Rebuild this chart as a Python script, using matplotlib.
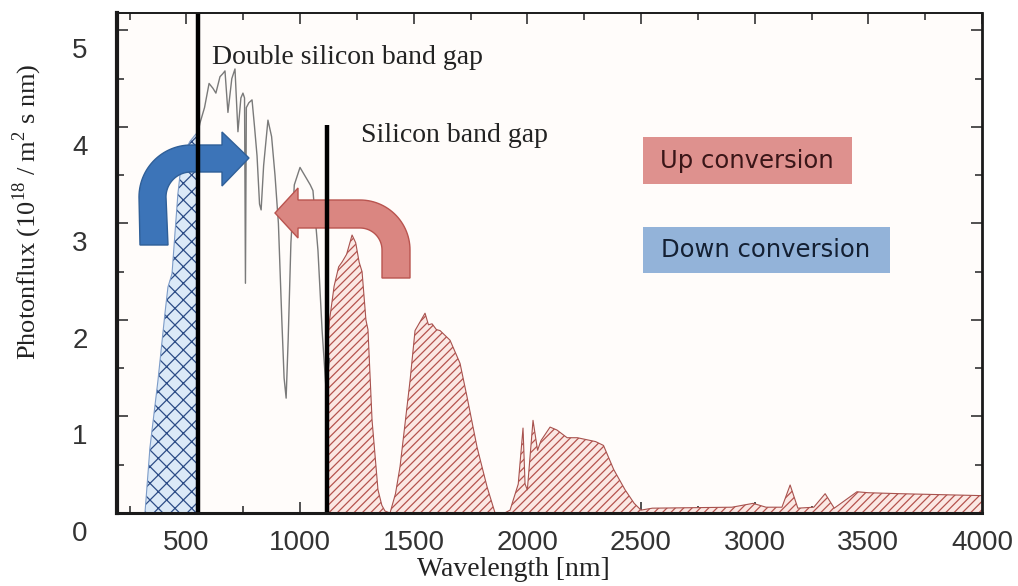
import numpy as np
import matplotlib
matplotlib.use('Agg')
import matplotlib.pyplot as plt
import matplotlib.transforms as mtransforms
from matplotlib.patches import Polygon, Rectangle
from matplotlib.ticker import MultipleLocator

plt.rcParams['mathtext.fontset'] = 'custom'
plt.rcParams['mathtext.rm'] = 'Liberation Serif'
plt.rcParams['hatch.linewidth'] = 0.9

# Blue (down conversion) part of the spectrum, below the double band gap
blue_nm = [318, 340, 375, 406, 419, 437, 450, 463, 472, 494, 516, 540, 552]
blue_flux = [0.0, 0.68, 1.37, 2.07, 2.34, 2.48, 2.9, 3.31, 3.5, 3.75, 3.85, 3.92, 3.95]

# Grey solar spectrum between the two band gaps
gray_nm = [552, 560, 580, 600, 617, 630, 648, 660, 670, 683, 700, 714, 722, 727, 740,
           749, 756, 760, 764, 775, 789, 800, 811, 822, 829, 840, 859, 875, 890, 905,
           920, 930, 939, 948, 960, 975, 1000, 1020, 1045, 1057, 1079, 1097, 1114, 1130]
gray_flux = [3.95, 4.04, 4.2, 4.45, 4.4, 4.35, 4.52, 4.55, 4.58, 4.15, 4.5, 4.6, 4.2, 3.95, 4.3,
             4.35, 4.3, 2.38, 4.2, 4.25, 4.28, 4.0, 3.7, 3.2, 3.14, 3.6, 4.07, 3.9, 3.5, 3.0,
             2.0, 1.4, 1.19, 1.8, 2.8, 3.4, 3.58, 3.5, 3.4, 3.34, 2.72, 1.9, 1.3, 1.6]

# Red (up conversion) part of the spectrum, beyond the silicon band gap
red_nm = [1120, 1130, 1150, 1170, 1185, 1205, 1229, 1245, 1260, 1273, 1290, 1299, 1317, 1343,
          1360, 1374, 1396, 1420, 1440, 1484, 1506, 1550, 1565, 1581, 1600, 1616, 1660, 1704,
          1735, 1779, 1823, 1858, 1900, 1924, 1960, 1981, 1990, 2000, 2025, 2045, 2060, 2100,
          2130, 2175, 2220, 2300, 2335, 2380, 2430, 2470, 2500, 2550, 2900, 2993, 3050, 3120,
          3156, 3190, 3260, 3310, 3350, 3450, 3500, 3640, 4000]
red_flux = [1.7, 2.0, 2.35, 2.55, 2.6, 2.68, 2.88, 2.8, 2.6, 2.5, 2.0, 1.9, 0.96, 0.24,
            0.08, 0.02, 0.0, 0.2, 0.48, 1.37, 1.89, 2.07, 1.95, 1.96, 1.9, 1.89, 1.79, 1.55,
            1.2, 0.68, 0.27, 0.0, 0.0, 0.03, 0.3, 0.88, 0.3, 0.24, 0.96, 0.65, 0.75, 0.89,
            0.86, 0.78, 0.78, 0.74, 0.7, 0.45, 0.24, 0.1, 0.03, 0.05, 0.06, 0.1, 0.06, 0.06,
            0.29, 0.05, 0.06, 0.2, 0.05, 0.22, 0.21, 0.2, 0.18]

double_gap_nm = 550
silicon_gap_nm = 1120
silicon_gap_top = 4.02

xticks = [500, 1000, 1500, 2000, 2500, 3000, 3500, 4000]
yticks = [0, 1, 2, 3, 4, 5]

W, H = 1018, 586
fig = plt.figure(figsize=(W / 100, H / 100), dpi=100)
ax = fig.add_axes([117 / W, 1 - 513 / H, 865 / W, 500 / H])
ax.set_facecolor('#fffcfa')
ax.set_xlim(195, 4000)
ax.set_ylim(0, 5.18)

# pixel transform (origin top-left) for the drawn annotations
px = mtransforms.Affine2D().scale(1 / W, -1 / H).translate(0, 1) + fig.transFigure

ax.fill_between(blue_nm, 0, blue_flux, facecolor='#dbe9f7', edgecolor='#2c4c86', hatch='xx', lw=0, zorder=2)
ax.plot(blue_nm, blue_flux, color='#7d9cc8', lw=0.8, zorder=3)
ax.fill_between(red_nm, 0, red_flux, facecolor='#fbe8e4', edgecolor='#b5534e', hatch='////', lw=0, zorder=2)
ax.plot(red_nm, red_flux, color='#a8524e', lw=0.8, zorder=3)
ax.plot(gray_nm, gray_flux, color='#7a7a7a', lw=1.0, zorder=3)

ax.axvline(double_gap_nm, color='black', lw=3.2, zorder=6)
ax.vlines(silicon_gap_nm, 0, silicon_gap_top, color='black', lw=3.2, zorder=6)


def bent_arrow(x0, x1, y_bot, cx, cy, R, r, head_x, head_y0, head_y1, tip_x, tip_y, flip):
    # shaft goes up from y_bot then bends horizontally towards the head
    t = np.linspace(0, np.pi / 2, 30)
    s = -1 if flip else 1
    outer = np.column_stack([cx - s * R * np.cos(t), cy - R * np.sin(t)])
    inner = np.column_stack([cx - s * r * np.sin(t), cy - r * np.cos(t)])
    pts = [(x0, y_bot)] + outer.tolist() + [(head_x, cy - R), (head_x, head_y0), (tip_x, tip_y),
                                          (head_x, head_y1), (head_x, cy - r)] + inner.tolist() + [(x1, y_bot)]
    return pts


blue_pts = bent_arrow(140, 168, 245, 191, 197, 52, 25, 222, 132, 186, 249, 158, False)
ax.add_patch(Polygon(blue_pts, closed=True, transform=px, fc='#3c74b8', ec='#2f5f98', lw=1.0, zorder=5, clip_on=False))
red_pts = bent_arrow(410, 382, 278, 360, 250, 50, 22, 298, 188, 238, 275, 213, True)
ax.add_patch(Polygon(red_pts, closed=True, transform=px, fc='#da8681', ec='#b9544f', lw=1.0, zorder=5, clip_on=False))

# labelled boxes
ax.add_patch(Rectangle((643, 184), 209, -47, transform=px, fc='#de918e', ec='none', zorder=4, clip_on=False))
ax.text(747, 161, 'Up conversion', transform=px, ha='center', va='center', fontsize=17.5,
        family='DejaVu Sans', color='#3a1618', zorder=7)
ax.add_patch(Rectangle((643, 273), 247, -46, transform=px, fc='#93b3d9', ec='none', zorder=4, clip_on=False))
ax.text(766, 250, 'Down conversion', transform=px, ha='center', va='center', fontsize=17.5,
        family='DejaVu Sans', color='#142033', zorder=7)

ax.text(212, 58, 'Double silicon band gap', transform=px, ha='left', va='center', fontsize=20,
        family='Liberation Serif', color='#222222', zorder=7)
ax.text(361, 135, 'Silicon band gap', transform=px, ha='left', va='center', fontsize=20,
        family='Liberation Serif', color='#222222', zorder=7)

# axes styling
ax.xaxis.set_minor_locator(MultipleLocator(250))
ax.yaxis.set_minor_locator(MultipleLocator(0.5))
ax.tick_params(which='both', direction='in', top=True, right=True, colors='#333333', width=1.2)
ax.tick_params(which='major', length=8)
ax.tick_params(which='minor', length=5)
ax.tick_params(axis='x', which='major', pad=12, labelsize=20)
ax.tick_params(axis='y', which='major', pad=21, labelsize=20)
ax.set_xticks(xticks)
ax.set_yticks(yticks)
for lbl in ax.get_xticklabels() + ax.get_yticklabels():
    lbl.set_family('Liberation Sans')
    lbl.set_color('#333333')
shift = mtransforms.ScaledTranslation(0, -0.18, fig.dpi_scale_trans)
for lbl in ax.get_yticklabels():
    lbl.set_transform(lbl.get_transform() + shift)

ax.spines['left'].set_linewidth(3.0)
ax.spines['bottom'].set_linewidth(2.2)
ax.spines['top'].set_linewidth(1.4)
ax.spines['right'].set_linewidth(2.0)
for sp in ax.spines.values():
    sp.set_color('#1a1a1a')
    sp.set_zorder(8)

ax.set_xlabel('Wavelength [nm]', fontsize=20, family='Liberation Serif', color='#222222')
ax.xaxis.set_label_coords(0.458, -0.088)
ax.set_ylabel(r'Photonflux (10$^{\mathrm{18}}$ / m$^{\mathrm{2}}$ s nm)', fontsize=19,
              family='Liberation Serif', color='#222222')
ax.yaxis.set_label_coords(-0.084, 0.602)

fig.savefig('out.png', dpi=100)
